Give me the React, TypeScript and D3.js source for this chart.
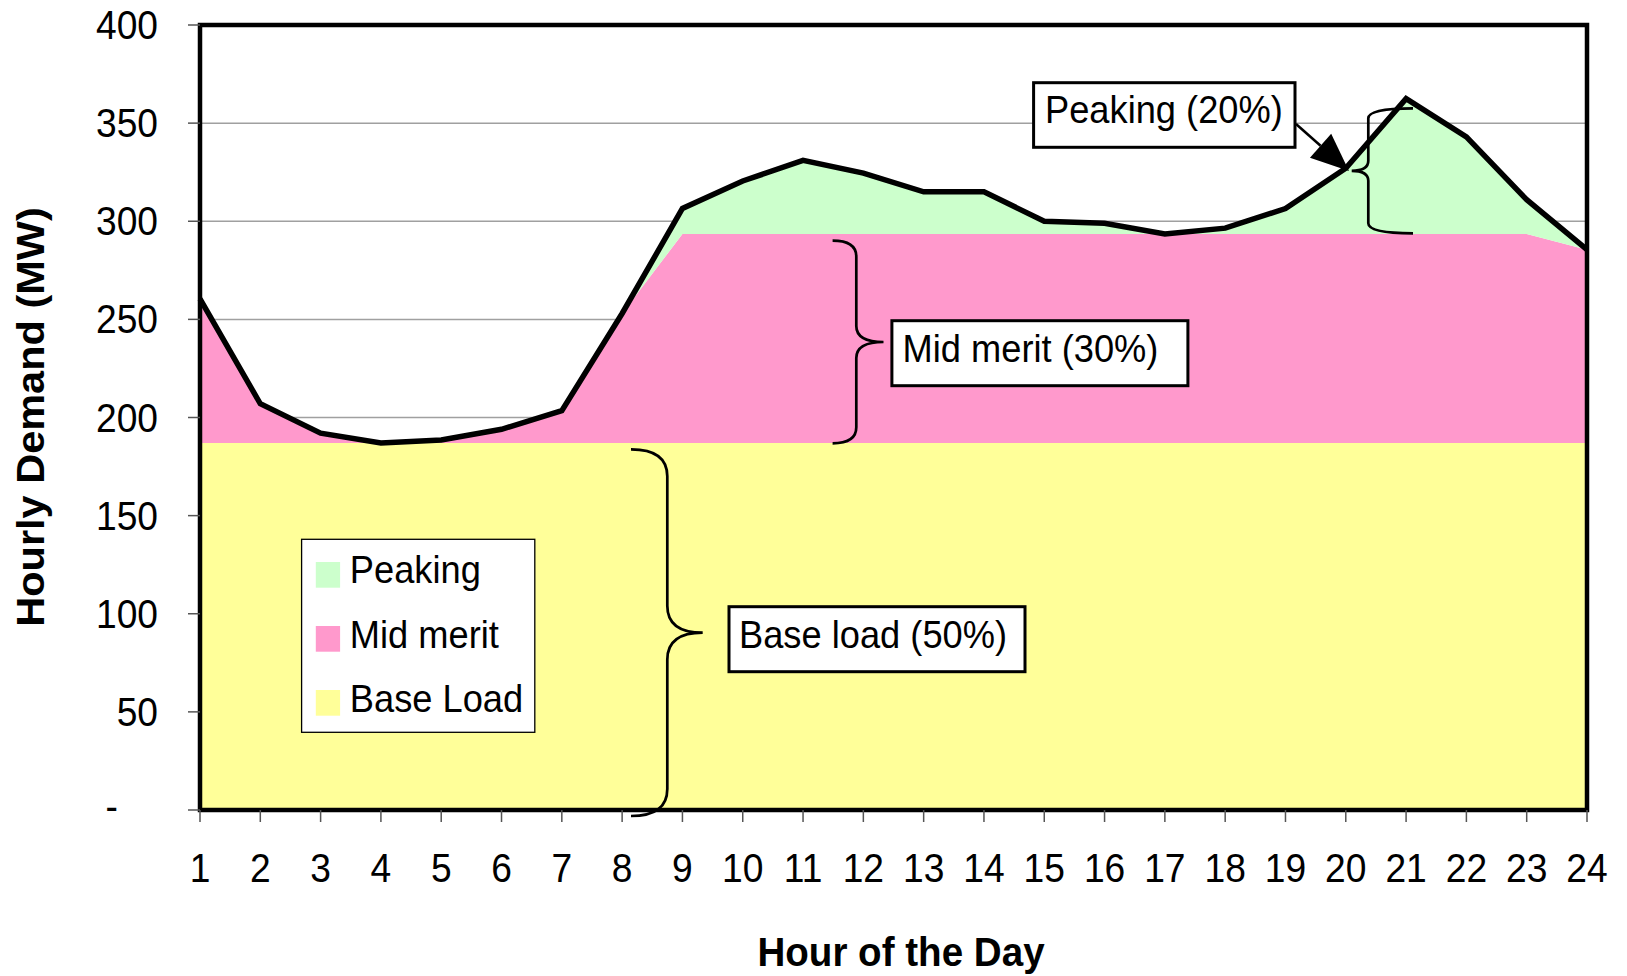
import * as d3 from 'd3'

// hourly demand split into the three generation types (MW)
const hours = [1, 2, 3, 4, 5, 6, 7, 8, 9, 10, 11, 12, 13, 14, 15, 16, 17, 18, 19, 20, 21, 22, 23, 24]
const baseLoad = [187, 187, 187, 187, 187, 187, 187, 187, 187, 187, 187, 187, 187, 187, 187, 187, 187, 187, 187, 187, 187, 187, 187, 187]
const midMerit = [73.5, 20, 5, 0, 1.5, 7, 16.5, 66, 106.5, 106.5, 106.5, 106.5, 106.5, 106.5, 106.5, 106.5, 106.5, 106.5, 106.5, 106.5, 106.5, 106.5, 106.5, 98.5]
const peaking = [0, 0, 0, 0, 0, 0, 0, 0, 13, 27, 37.5, 31, 21.5, 21.5, 6.5, 5.5, 0, 3, 13, 33.5, 69, 49.5, 17.5, 0]
const demand = [260.5, 207, 192, 187, 188.5, 194, 203.5, 253, 306.5, 320.5, 331, 324.5, 315, 315, 300, 299, 293.5, 296.5, 306.5, 327, 362.5, 343, 311, 285.5]

const yTicks = [0, 50, 100, 150, 200, 250, 300, 350, 400]
const yTickLabels = ['-', '50', '100', '150', '200', '250', '300', '350', '400']
const legendLabels = ['Peaking', 'Mid merit', 'Base Load']
const legendKeys = ['peak', 'mid', 'base']

const W = 1627
const H = 976
const FONT = '"Liberation Sans", Arial, sans-serif'
const K = 0.93 // the original text is a little condensed

const colors: Record<string, string> = {
  base: '#FFFF99',
  mid: '#FF99CC',
  peak: '#CCFFCC',
}

// curly brace; arm end at xArm, vertical bar at xBar, point at xTip
function brace(xArm: number, xBar: number, xTip: number, yTop: number, yBot: number, ry: number) {
  const ym = (yTop + yBot) / 2
  return [
    `M${xArm},${yTop}`,
    `Q${xBar},${yTop} ${xBar},${yTop + ry}`,
    `L${xBar},${ym - ry}`,
    `Q${xBar},${ym} ${xTip},${ym}`,
    `Q${xBar},${ym} ${xBar},${ym + ry}`,
    `L${xBar},${yBot - ry}`,
    `Q${xBar},${yBot} ${xArm},${yBot}`,
  ].join(' ')
}

function Label({ x, y, text, size = 39, bold = false, anchor = 'start' }: any) {
  return (
    <text
      transform={`translate(${x},${y}) scale(${K},1)`}
      fontFamily={FONT}
      fontSize={size}
      fontWeight={bold ? 'bold' : 'normal'}
      textAnchor={anchor}
      fill="#000"
    >
      {text}
    </text>
  )
}

export default function App() {
  const x = d3.scaleLinear().domain([1, 24]).range([200, 1587])
  const y = d3.scaleLinear().domain([0, 400]).range([810, 25])

  const rows = hours.map((h, i) => ({
    hour: h,
    base: baseLoad[i],
    mid: midMerit[i],
    peak: peaking[i],
  }))
  const series = d3.stack<any>().keys(['base', 'mid', 'peak'])(rows)

  const area = d3
    .area<any>()
    .x((d) => x(d.data.hour))
    .y0((d) => y(d[0]))
    .y1((d) => y(d[1]))

  const line = d3
    .line<number>()
    .x((_, i) => x(hours[i]))
    .y((d) => y(d))

  // arrow from the Peaking box to the curve
  const a0 = [1296, 124]
  const a1 = [1349, 171]
  const len = Math.hypot(a1[0] - a0[0], a1[1] - a0[1])
  const ux = (a1[0] - a0[0]) / len
  const uy = (a1[1] - a0[1]) / len
  const hl = 38
  const hw = 16
  const bx = a1[0] - ux * hl
  const by = a1[1] - uy * hl
  const head = `${a1[0]},${a1[1]} ${bx - uy * hw},${by + ux * hw} ${bx + uy * hw},${by - ux * hw}`

  return (
    <svg
      width={W}
      height={H}
      style={{ position: 'absolute', left: 0, top: 0, display: 'block', background: '#fff' }}
    >
      {/* gridlines */}
      {yTicks.slice(1, -1).map((t) => (
        <line key={t} x1={x(1)} x2={x(24)} y1={y(t)} y2={y(t)} stroke="#A0A0A0" strokeWidth={1.5} />
      ))}

      {/* stacked areas */}
      {series.map((s) => (
        <path key={s.key} d={area(s) || ''} fill={colors[s.key]} stroke="none" />
      ))}

      {/* demand curve */}
      <path d={line(demand) || ''} fill="none" stroke="#000" strokeWidth={5.5} />

      {/* frame */}
      <rect x={x(1)} y={y(400)} width={x(24) - x(1)} height={y(0) - y(400)} fill="none" stroke="#000" strokeWidth={4.5} />

      {/* y axis */}
      {yTicks.map((t, i) => (
        <g key={t}>
          <line x1={188} x2={x(1)} y1={y(t)} y2={y(t)} stroke="#555" strokeWidth={1.5} />
          <Label x={t === 0 ? 118 : 158} y={y(t) + (t === 0 ? 10 : 14)} text={yTickLabels[i]} size={40} anchor="end" />
        </g>
      ))}

      {/* x axis */}
      {hours.map((h) => (
        <g key={h}>
          <line x1={x(h)} x2={x(h)} y1={y(0)} y2={822} stroke="#555" strokeWidth={1.5} />
          <Label x={x(h)} y={882} text={String(h)} size={40} anchor="middle" />
        </g>
      ))}

      {/* axis titles */}
      <Label x={901} y={966} text="Hour of the Day" size={41.5} bold anchor="middle" />
      <text
        transform="translate(44,417) rotate(-90) scale(1,0.93)"
        fontFamily={FONT}
        fontSize={41.5}
        fontWeight="bold"
        textAnchor="middle"
      >
        Hourly Demand (MW)
      </text>

      {/* legend */}
      <rect x={301.6} y={539.3} width={233.2} height={193} fill="#fff" stroke="#000" strokeWidth={1.3} />
      {legendLabels.map((lab, i) => (
        <g key={lab}>
          <rect x={315.8} y={562 + i * 64} width={24.3} height={25.7} fill={colors[legendKeys[i]]} />
          <Label x={349.8} y={583.3 + i * 64.5} text={lab} />
        </g>
      ))}

      {/* braces */}
      <g fill="none" stroke="#000" strokeWidth={2.7}>
        <path d={brace(1413, 1368.3, 1351.7, 108.3, 233.3, 10)} />
        <path d={brace(832.6, 856.3, 883.5, 240.7, 443.3, 16)} />
        <path d={brace(631, 667.3, 702.7, 449.3, 816, 27)} />
      </g>

      {/* annotation boxes */}
      <rect x={1033.6} y={82.7} width={261.4} height={64.6} fill="#fff" stroke="#000" strokeWidth={3} />
      <Label x={1045} y={123.3} text="Peaking (20%)" />
      <rect x={891.9} y={320.7} width={296} height={65} fill="#fff" stroke="#000" strokeWidth={3} />
      <Label x={902.6} y={362.3} text="Mid merit (30%)" />
      <rect x={729} y={606.7} width={296} height={65} fill="#fff" stroke="#000" strokeWidth={3} />
      <Label x={739} y={648.3} text="Base load (50%)" />

      {/* arrow */}
      <line x1={a0[0]} y1={a0[1]} x2={bx} y2={by} stroke="#000" strokeWidth={2.5} />
      <polygon points={head} fill="#000" />
    </svg>
  )
}
